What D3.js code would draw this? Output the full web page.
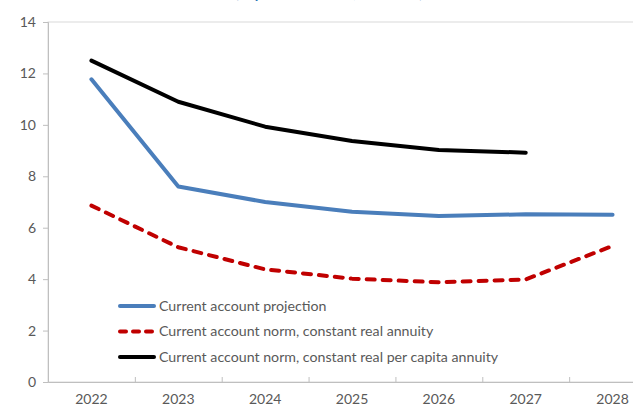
<!DOCTYPE html>
<html>
<head>
<meta charset="utf-8">
<script src="https://cdn.jsdelivr.net/npm/d3@7"></script>
<style>
  body { margin: 0; background: #fff; }
  svg { display: block; overflow: hidden; }
  text { font-family: Lato, "Liberation Sans", sans-serif; }
</style>
</head>
<body>
<svg id="chart"></svg>
<script>
var width = 633, height = 407;

// data
var years = ["2022", "2023", "2024", "2025", "2026", "2027", "2028"];
var projection = [11.77, 7.6, 7.0, 6.62, 6.46, 6.52, 6.5];
var normAnnuity = [6.86, 5.24, 4.38, 4.02, 3.88, 3.99, 5.29];
var normPerCapita = [12.5, 10.9, 9.93, 9.37, 9.02, 8.92, null];
var yTicks = [0, 2, 4, 6, 8, 10, 12, 14];

var series = [
    {name: "Current account projection", values: projection, color: "#4a7ebb", dash: null},
    {name: "Current account norm, constant real annuity", values: normAnnuity, color: "#c00000", dash: "8,8"},
    {name: "Current account norm, constant real per capita annuity", values: normPerCapita, color: "#000000", dash: null}
];

var svg = d3.select("#chart").attr("width", width).attr("height", height);

var x = d3.scaleBand().domain(years).range([48, 656]);
var y = d3.scaleLinear().domain([0, 14]).range([382, 22]);

// title sits mostly above the top edge, as in the reference
svg.append("text")
    .attr("x", 329).attr("y", -2)
    .attr("text-anchor", "middle")
    .attr("font-size", 14.5).attr("font-weight", "bold")
    .attr("fill", "#2e75b6")
    .text("(In percent of GDP, 2022–28)");

// plot area border
svg.append("rect")
    .attr("x", 48).attr("y", y(14))
    .attr("width", 656 - 48).attr("height", y(0) - y(14))
    .attr("fill", "none").attr("stroke", "#d9d9d9").attr("stroke-width", 1);

// y axis
var yAxis = svg.append("g").attr("transform", "translate(48,0)")
    .call(d3.axisLeft(y).tickValues(yTicks).tickSize(5).tickPadding(7));
yAxis.select(".domain").attr("stroke", "#bfbfbf");
yAxis.selectAll(".tick line").attr("stroke", "#bfbfbf");
yAxis.selectAll(".tick text").attr("fill", "#595959").attr("font-size", 14)
    .style("font-family", "Lato, 'Liberation Sans', sans-serif");

// x axis
var xAxis = svg.append("g").attr("transform", "translate(0," + y(0) + ")")
    .call(d3.axisBottom(x).tickSize(0).tickPadding(12));
xAxis.select(".domain").attr("stroke", "#bfbfbf");
xAxis.selectAll(".tick text").attr("fill", "#595959").attr("font-size", 14)
    .style("font-family", "Lato, 'Liberation Sans', sans-serif");
xAxis.selectAll(".sep")
    .data(years.slice(1))
    .enter().append("line")
    .attr("x1", function(d) { return x(d) + 0.5; })
    .attr("x2", function(d) { return x(d) + 0.5; })
    .attr("y1", -5).attr("y2", 0)
    .attr("stroke", "#bfbfbf");

// lines
var line = d3.line()
    .defined(function(d) { return d != null; })
    .x(function(d, i) { return x(years[i]) + x.bandwidth() / 2; })
    .y(function(d) { return y(d); });

series.forEach(function(s) {
    svg.append("path")
        .attr("d", line(s.values))
        .attr("fill", "none")
        .attr("stroke", s.color)
        .attr("stroke-width", 4)
        .attr("stroke-linejoin", "round")
        .attr("stroke-linecap", "round")
        .attr("stroke-dasharray", s.dash);
});

// legend
var legend = svg.append("g").attr("transform", "translate(118,306)");
var item = legend.selectAll("g")
    .data(series)
    .enter().append("g")
    .attr("transform", function(d, i) { return "translate(0," + i * 25.5 + ")"; });

item.append("line")
    .attr("x1", 2).attr("x2", 36)
    .attr("stroke", function(d) { return d.color; })
    .attr("stroke-width", 4)
    .attr("stroke-linecap", "round")
    .attr("stroke-dasharray", function(d) { return d.dash ? "6,7" : null; });

item.append("text")
    .attr("x", 41).attr("dy", "0.35em")
    .attr("font-size", 14.2)
    .attr("fill", "#595959")
    .text(function(d) { return d.name; });
</script>
</body>
</html>
